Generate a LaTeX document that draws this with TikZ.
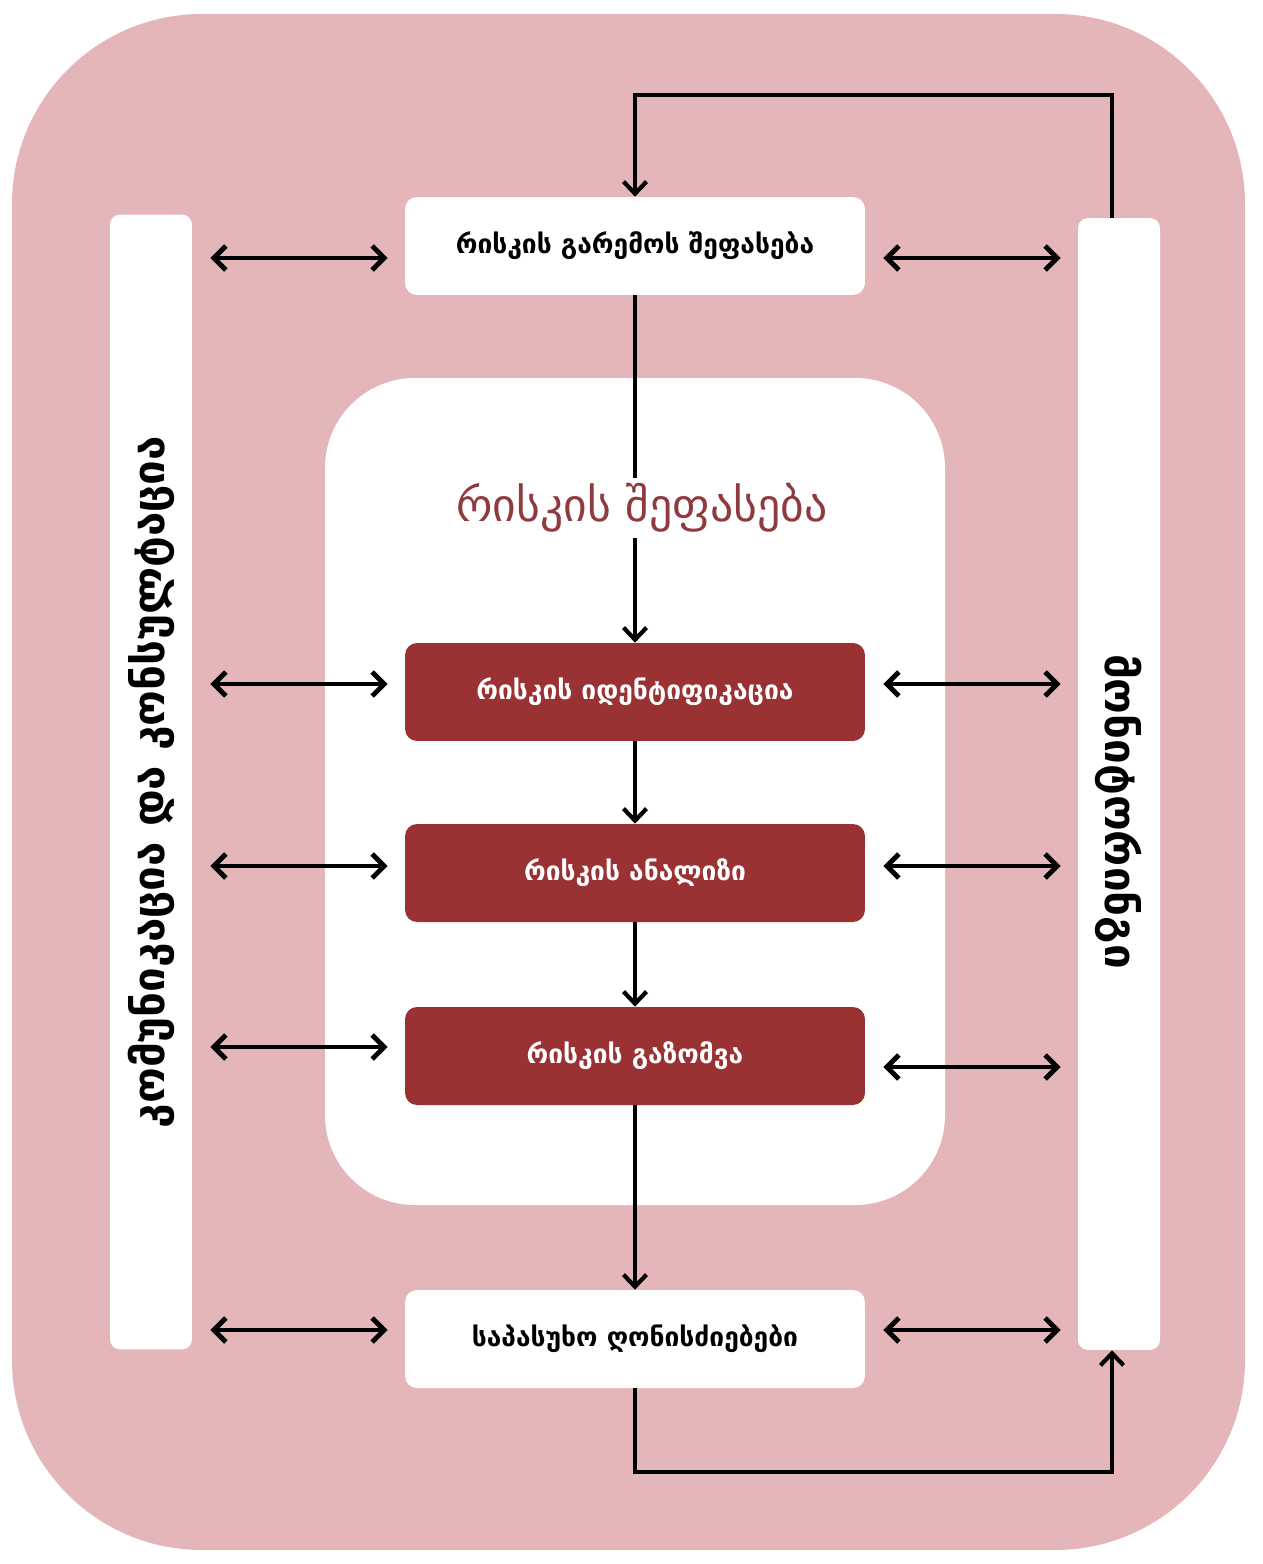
\documentclass[tikz,border=0pt]{standalone}
\usepackage{fontspec}
\newfontfamily\geo{DejaVu Sans}
\usetikzlibrary{arrows.meta}

\definecolor{pinkbg}{RGB}{229,182,185}
\definecolor{riskred}{RGB}{154,50,52}
\definecolor{titlered}{RGB}{143,58,62}

\begin{document}
\begin{tikzpicture}
    \def\dx{0.02cm}
    \def\dy{0.02cm}

    \tikzstyle{plain}=[fill=white,rounded corners=0.24cm,minimum width=9.2cm,minimum height=1.96cm,font=\geo\bfseries\fontsize{15}{17}\selectfont,text=black]
    \tikzstyle{step3}=[plain,fill=riskred,text=white]
    \tikzstyle{bar}=[fill=white,rounded corners=0.2cm,minimum height=1.64cm,font=\geo\bfseries\fontsize{25}{28}\selectfont]

    \useasboundingbox (0,0) rectangle (1262*\dx,-1564*\dy);
    \fill[pinkbg,rounded corners=3.8cm] (12*\dx,-14*\dy) rectangle (1245*\dx,-1550*\dy);
    \fill[white,rounded corners=1.8cm] (325*\dx,-378*\dy) rectangle (945*\dx,-1205*\dy);

    \node[bar,rotate=90,minimum width=22.7cm]  (comm) at (151*\dx,-782*\dy) {კომუნიკაცია და კონსულტაცია};
    \node[bar,rotate=-90,minimum width=22.64cm] (mon) at (1119*\dx,-784*\dy) {\hspace*{1.1cm}მონიტორინგი};

    \node[plain]  (env)   at (635*\dx,-246*\dy)  {რისკის გარემოს შეფასება};
    \node[step3]  (ident) at (635*\dx,-692*\dy)  {რისკის იდენტიფიკაცია};
    \node[step3]  (anal)  at (635*\dx,-873*\dy)  {რისკის ანალიზი};
    \node[step3]  (meas)  at (635*\dx,-1056*\dy) {რისკის გაზომვა};
    \node[plain]  (resp)  at (635*\dx,-1339*\dy) {საპასუხო ღონისძიებები};

    \coordinate (fbtop) at (635*\dx,-95*\dy);
    \coordinate (fbbot) at (635*\dx,-1472*\dy);

    \tikzstyle{fwd} = [draw=black, line width=1.9pt, -{Straight Barb[length=2.4mm,width=4.6mm,line width=2.4pt]}]
    \tikzstyle{dbl} = [draw=black, line width=2.3pt, {Straight Barb[length=2.4mm,width=4.8mm,line width=2.8pt]}-{Straight Barb[length=2.4mm,width=4.8mm,line width=2.8pt]}, shorten <=0.36cm, shorten >=0.34cm]

          \draw [fwd] ([xshift=-0.14cm]mon.west) |- (fbtop) -- (env.north);
          \draw [fwd] (env) -- (ident);
          \draw [fwd] (ident) -- (anal);
          \draw [fwd] (anal) -- (meas);
          \draw [fwd] (meas) -- (resp);
          \draw [fwd] (resp.south) -- (fbbot) -| ([xshift=-0.14cm]mon.east);

    \node[fill=white,text=titlered,font=\geo\fontsize{26}{30}\selectfont] (title) at (642*\dx,-508*\dy) {რისკის შეფასება};

          \draw [dbl] ([yshift=-0.24cm]comm.south |- env.west) -- ([yshift=-0.24cm]env.west);
          \draw [dbl] ([yshift=0.16cm]comm.south |- ident.west) -- ([yshift=0.16cm]ident.west);
          \draw [dbl] ([yshift=0.14cm]comm.south |- anal.west) -- ([yshift=0.14cm]anal.west);
          \draw [dbl] ([yshift=0.18cm]comm.south |- meas.west) -- ([yshift=0.18cm]meas.west);
          \draw [dbl] ([yshift=0.18cm]comm.south |- resp.west) -- ([yshift=0.18cm]resp.west);

          \draw [dbl] ([yshift=-0.24cm]env.east) -- ([yshift=-0.24cm]mon.south |- env.east);
          \draw [dbl] ([yshift=0.16cm]ident.east) -- ([yshift=0.16cm]mon.south |- ident.east);
          \draw [dbl] ([yshift=0.14cm]anal.east) -- ([yshift=0.14cm]mon.south |- anal.east);
          \draw [dbl] ([yshift=-0.22cm]meas.east) -- ([yshift=-0.22cm]mon.south |- meas.east);
          \draw [dbl] ([yshift=0.18cm]resp.east) -- ([yshift=0.18cm]mon.south |- resp.east);

  \end{tikzpicture}
\end{document}
